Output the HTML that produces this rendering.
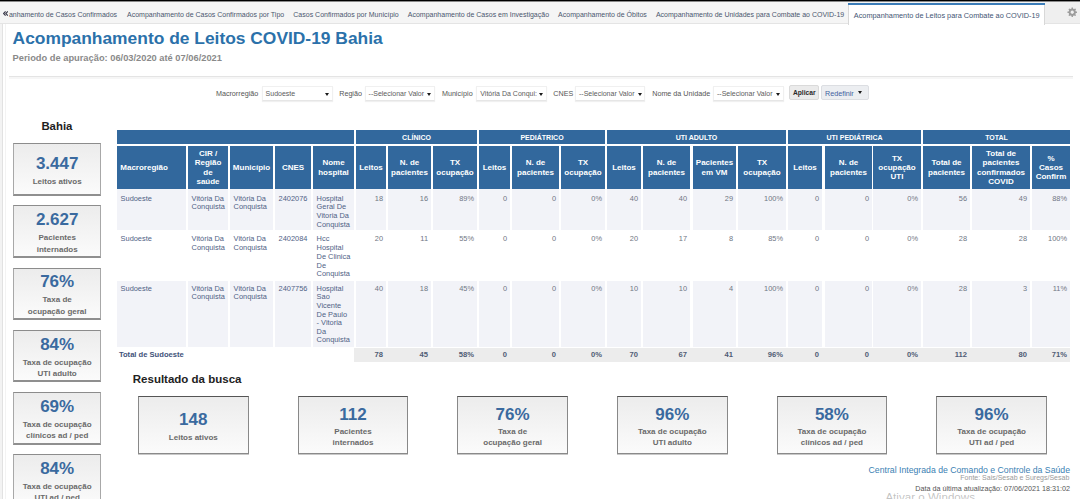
<!DOCTYPE html>
<html lang="pt-BR"><head><meta charset="utf-8"><title>Acompanhamento de Leitos COVID-19 Bahia</title>
<style>
html,body{margin:0;padding:0;width:1080px;height:499px;overflow:hidden;background:#f3f3f3}
body{position:relative;font-family:"Liberation Sans", Arial, sans-serif}
body div{position:absolute;white-space:nowrap;box-sizing:border-box}
svg{position:absolute}
</style></head><body>
<div style="left:0px;top:0px;width:1080px;height:499px;background:#f3f3f3"></div>
<div style="left:0px;top:0px;width:1080px;height:1px;background:#000"></div>
<div style="left:0px;top:1px;width:1080px;height:1px;background:#8a8a8a"></div>
<div style="left:0px;top:2px;width:1080px;height:22px;background:#f5f5f5"></div>
<div style="left:0px;top:23px;width:1080px;height:1px;background:#e4e4e4"></div>
<div style="left:2px;top:24px;width:1078px;height:475px;background:#fff"></div>
<div style="left:2px;top:24px;width:1px;height:475px;background:#e2e2e2"></div>
<div style="left:5px;top:24px;width:1px;height:475px;background:#f3f3f3"></div>
<div style="left:848px;top:3px;width:197px;height:22px;background:#fff;border-left:1px solid #d8d8d8;border-right:1px solid #d8d8d8;box-sizing:border-box"></div>
<div style="left:848px;top:3px;width:197px;height:2px;background:#3b7cb8"></div>
<div style="left:1045px;top:2px;width:35px;height:21px;background:#efefef"></div>
<svg style="position:absolute;left:2.8px;top:11px" width="5.2" height="5" viewBox="0 0 5.2 5"><path d="M2.6 0.4 L0.6 2.5 L2.6 4.6 M4.8 0.4 L2.8 2.5 L4.8 4.6" stroke="#3a3a4a" stroke-width="1.1" fill="none"/></svg>
<svg style="position:absolute;left:1066.6px;top:6.8px" width="10.5" height="10.5" viewBox="0 0 24 24"><path fill="#9c9c9c" fill-rule="evenodd" d="M20.17 10.04 L22.90 10.54 L22.90 13.46 L20.17 13.96 L19.16 16.39 L20.74 18.67 L18.67 20.74 L16.39 19.16 L13.96 20.17 L13.46 22.90 L10.54 22.90 L10.04 20.17 L7.61 19.16 L5.33 20.74 L3.26 18.67 L4.84 16.39 L3.83 13.96 L1.10 13.46 L1.10 10.54 L3.83 10.04 L4.84 7.61 L3.26 5.33 L5.33 3.26 L7.61 4.84 L10.04 3.83 L10.54 1.10 L13.46 1.10 L13.96 3.83 L16.39 4.84 L18.67 3.26 L20.74 5.33 L19.16 7.61 Z M12 8.2 A3.8 3.8 0 1 0 12.001 8.2 Z"/></svg>
<div style="left:9px;top:76px;width:1064px;height:1px;background:#e4e4e4"></div>
<div style="left:9px;top:77px;width:1064px;height:2px;background:#f6f6f6"></div>
<div style="left:261.6px;top:86px;width:71.09999999999997px;height:15px;background:#fff;border:1px solid #f0f0f0;border-bottom-color:#e6e6e6;box-sizing:border-box;box-shadow:0 1px 1px rgba(0,0,0,0.06)"></div>
<div style="left:324.70px;top:92.70px;width:0;height:0;border-left:2.3px solid transparent;border-right:2.3px solid transparent;border-top:3.8px solid #1a1a1a"></div>
<div style="left:364.6px;top:86px;width:70.39999999999998px;height:15px;background:#fff;border:1px solid #f0f0f0;border-bottom-color:#e6e6e6;box-sizing:border-box;box-shadow:0 1px 1px rgba(0,0,0,0.06)"></div>
<div style="left:426.70px;top:92.70px;width:0;height:0;border-left:2.3px solid transparent;border-right:2.3px solid transparent;border-top:3.8px solid #1a1a1a"></div>
<div style="left:476.3px;top:86px;width:70.69999999999999px;height:15px;background:#fff;border:1px solid #f0f0f0;border-bottom-color:#e6e6e6;box-sizing:border-box;box-shadow:0 1px 1px rgba(0,0,0,0.06)"></div>
<div style="left:538.70px;top:92.70px;width:0;height:0;border-left:2.3px solid transparent;border-right:2.3px solid transparent;border-top:3.8px solid #1a1a1a"></div>
<div style="left:575px;top:86px;width:70.39999999999998px;height:15px;background:#fff;border:1px solid #f0f0f0;border-bottom-color:#e6e6e6;box-sizing:border-box;box-shadow:0 1px 1px rgba(0,0,0,0.06)"></div>
<div style="left:637.90px;top:92.70px;width:0;height:0;border-left:2.3px solid transparent;border-right:2.3px solid transparent;border-top:3.8px solid #1a1a1a"></div>
<div style="left:713px;top:86px;width:71.29999999999995px;height:15px;background:#fff;border:1px solid #f0f0f0;border-bottom-color:#e6e6e6;box-sizing:border-box;box-shadow:0 1px 1px rgba(0,0,0,0.06)"></div>
<div style="left:775.70px;top:92.70px;width:0;height:0;border-left:2.3px solid transparent;border-right:2.3px solid transparent;border-top:3.8px solid #1a1a1a"></div>
<div style="left:789.3px;top:85.3px;width:30.100000000000023px;height:15.200000000000003px;background:#ebebeb;border:1px solid #dadada;border-radius:2px;box-sizing:border-box"></div>
<div style="left:821.3px;top:85.3px;width:48.10000000000002px;height:15.200000000000003px;background:#eceef1;border:1px solid #dcdee2;border-radius:2px;box-sizing:border-box"></div>
<div style="left:858.10px;top:91.20px;width:0;height:0;border-left:2.3px solid transparent;border-right:2.3px solid transparent;border-top:3.8px solid #1a1a1a"></div>
<div style="left:13.3px;top:143.2px;width:87.7px;height:52.5px;background:linear-gradient(#ececec,#fbfbfb);border:1px solid #a8a8a8;border-top-color:#8c8c8c;border-bottom:2px solid #8f8f8f;box-sizing:border-box"></div>
<div style="left:13.3px;top:205.4px;width:87.7px;height:52.49999999999997px;background:linear-gradient(#ececec,#fbfbfb);border:1px solid #a8a8a8;border-top-color:#8c8c8c;border-bottom:2px solid #8f8f8f;box-sizing:border-box"></div>
<div style="left:13.3px;top:267.6px;width:87.7px;height:52.5px;background:linear-gradient(#ececec,#fbfbfb);border:1px solid #a8a8a8;border-top-color:#8c8c8c;border-bottom:2px solid #8f8f8f;box-sizing:border-box"></div>
<div style="left:13.3px;top:329.8px;width:87.7px;height:52.5px;background:linear-gradient(#ececec,#fbfbfb);border:1px solid #a8a8a8;border-top-color:#8c8c8c;border-bottom:2px solid #8f8f8f;box-sizing:border-box"></div>
<div style="left:13.3px;top:392.0px;width:87.7px;height:52.5px;background:linear-gradient(#ececec,#fbfbfb);border:1px solid #a8a8a8;border-top-color:#8c8c8c;border-bottom:2px solid #8f8f8f;box-sizing:border-box"></div>
<div style="left:13.3px;top:454.2px;width:87.7px;height:52.5px;background:linear-gradient(#ececec,#fbfbfb);border:1px solid #a8a8a8;border-top-color:#8c8c8c;border-bottom:2px solid #8f8f8f;box-sizing:border-box"></div>
<div style="left:117px;top:130px;width:237px;height:14px;background:#32689d"></div>
<div style="left:356px;top:130px;width:121px;height:14px;background:#32689d"></div>
<div style="left:479px;top:130px;width:126px;height:14px;background:#32689d"></div>
<div style="left:607px;top:130px;width:179px;height:14px;background:#32689d"></div>
<div style="left:788px;top:130px;width:133px;height:14px;background:#32689d"></div>
<div style="left:923px;top:130px;width:147px;height:14px;background:#32689d"></div>
<div style="left:117px;top:146px;width:69px;height:43px;background:#32689d"></div>
<div style="left:188px;top:146px;width:40px;height:43px;background:#32689d"></div>
<div style="left:230px;top:146px;width:43px;height:43px;background:#32689d"></div>
<div style="left:275px;top:146px;width:36px;height:43px;background:#32689d"></div>
<div style="left:313px;top:146px;width:41px;height:43px;background:#32689d"></div>
<div style="left:356px;top:146px;width:30px;height:43px;background:#32689d"></div>
<div style="left:388px;top:146px;width:43px;height:43px;background:#32689d"></div>
<div style="left:433px;top:146px;width:44px;height:43px;background:#32689d"></div>
<div style="left:479px;top:146px;width:31px;height:43px;background:#32689d"></div>
<div style="left:512px;top:146px;width:47px;height:43px;background:#32689d"></div>
<div style="left:561px;top:146px;width:44px;height:43px;background:#32689d"></div>
<div style="left:607px;top:146px;width:34px;height:43px;background:#32689d"></div>
<div style="left:643px;top:146px;width:47px;height:43px;background:#32689d"></div>
<div style="left:693px;top:146px;width:43px;height:43px;background:#32689d"></div>
<div style="left:738px;top:146px;width:48px;height:43px;background:#32689d"></div>
<div style="left:788px;top:146px;width:34px;height:43px;background:#32689d"></div>
<div style="left:825px;top:146px;width:47px;height:43px;background:#32689d"></div>
<div style="left:873px;top:146px;width:48px;height:43px;background:#32689d"></div>
<div style="left:923px;top:146px;width:47px;height:43px;background:#32689d"></div>
<div style="left:972px;top:146px;width:58px;height:43px;background:#32689d"></div>
<div style="left:1032px;top:146px;width:38px;height:43px;background:#32689d"></div>
<div style="left:117px;top:189px;width:69px;height:41px;background:#f2f3f8"></div>
<div style="left:188px;top:189px;width:40px;height:41px;background:#f2f3f8"></div>
<div style="left:230px;top:189px;width:43px;height:41px;background:#f2f3f8"></div>
<div style="left:275px;top:189px;width:36px;height:41px;background:#f2f3f8"></div>
<div style="left:313px;top:189px;width:41px;height:41px;background:#f2f3f8"></div>
<div style="left:356px;top:189px;width:30px;height:41px;background:#f2f3f8"></div>
<div style="left:388px;top:189px;width:43px;height:41px;background:#f2f3f8"></div>
<div style="left:433px;top:189px;width:44px;height:41px;background:#f2f3f8"></div>
<div style="left:479px;top:189px;width:31px;height:41px;background:#f2f3f8"></div>
<div style="left:512px;top:189px;width:47px;height:41px;background:#f2f3f8"></div>
<div style="left:561px;top:189px;width:44px;height:41px;background:#f2f3f8"></div>
<div style="left:607px;top:189px;width:34px;height:41px;background:#f2f3f8"></div>
<div style="left:643px;top:189px;width:47px;height:41px;background:#f2f3f8"></div>
<div style="left:693px;top:189px;width:43px;height:41px;background:#f2f3f8"></div>
<div style="left:738px;top:189px;width:48px;height:41px;background:#f2f3f8"></div>
<div style="left:788px;top:189px;width:34px;height:41px;background:#f2f3f8"></div>
<div style="left:825px;top:189px;width:47px;height:41px;background:#f2f3f8"></div>
<div style="left:873px;top:189px;width:48px;height:41px;background:#f2f3f8"></div>
<div style="left:923px;top:189px;width:47px;height:41px;background:#f2f3f8"></div>
<div style="left:972px;top:189px;width:58px;height:41px;background:#f2f3f8"></div>
<div style="left:1032px;top:189px;width:38px;height:41px;background:#f2f3f8"></div>
<div style="left:117px;top:281px;width:69px;height:66px;background:#f2f3f8"></div>
<div style="left:188px;top:281px;width:40px;height:66px;background:#f2f3f8"></div>
<div style="left:230px;top:281px;width:43px;height:66px;background:#f2f3f8"></div>
<div style="left:275px;top:281px;width:36px;height:66px;background:#f2f3f8"></div>
<div style="left:313px;top:281px;width:41px;height:66px;background:#f2f3f8"></div>
<div style="left:356px;top:281px;width:30px;height:66px;background:#f2f3f8"></div>
<div style="left:388px;top:281px;width:43px;height:66px;background:#f2f3f8"></div>
<div style="left:433px;top:281px;width:44px;height:66px;background:#f2f3f8"></div>
<div style="left:479px;top:281px;width:31px;height:66px;background:#f2f3f8"></div>
<div style="left:512px;top:281px;width:47px;height:66px;background:#f2f3f8"></div>
<div style="left:561px;top:281px;width:44px;height:66px;background:#f2f3f8"></div>
<div style="left:607px;top:281px;width:34px;height:66px;background:#f2f3f8"></div>
<div style="left:643px;top:281px;width:47px;height:66px;background:#f2f3f8"></div>
<div style="left:693px;top:281px;width:43px;height:66px;background:#f2f3f8"></div>
<div style="left:738px;top:281px;width:48px;height:66px;background:#f2f3f8"></div>
<div style="left:788px;top:281px;width:34px;height:66px;background:#f2f3f8"></div>
<div style="left:825px;top:281px;width:47px;height:66px;background:#f2f3f8"></div>
<div style="left:873px;top:281px;width:48px;height:66px;background:#f2f3f8"></div>
<div style="left:923px;top:281px;width:47px;height:66px;background:#f2f3f8"></div>
<div style="left:972px;top:281px;width:58px;height:66px;background:#f2f3f8"></div>
<div style="left:1032px;top:281px;width:38px;height:66px;background:#f2f3f8"></div>
<div style="left:354px;top:348px;width:716px;height:14px;background:#ececec"></div>
<div style="left:138.0px;top:396.3px;width:110.6px;height:58.0px;background:linear-gradient(#ececec,#fbfbfb);border:1px solid #888;border-top-color:#555;border-bottom-color:#8a8a8a;box-sizing:border-box;box-shadow:0 1px 0 #c8c8c8"></div>
<div style="left:297.7px;top:396.3px;width:110.59999999999997px;height:58.0px;background:linear-gradient(#ececec,#fbfbfb);border:1px solid #888;border-top-color:#555;border-bottom-color:#8a8a8a;box-sizing:border-box;box-shadow:0 1px 0 #c8c8c8"></div>
<div style="left:457.3px;top:396.3px;width:110.59999999999997px;height:58.0px;background:linear-gradient(#ececec,#fbfbfb);border:1px solid #888;border-top-color:#555;border-bottom-color:#8a8a8a;box-sizing:border-box;box-shadow:0 1px 0 #c8c8c8"></div>
<div style="left:617.0px;top:396.3px;width:110.60000000000002px;height:58.0px;background:linear-gradient(#ececec,#fbfbfb);border:1px solid #888;border-top-color:#555;border-bottom-color:#8a8a8a;box-sizing:border-box;box-shadow:0 1px 0 #c8c8c8"></div>
<div style="left:776.6px;top:396.3px;width:110.60000000000002px;height:58.0px;background:linear-gradient(#ececec,#fbfbfb);border:1px solid #888;border-top-color:#555;border-bottom-color:#8a8a8a;box-sizing:border-box;box-shadow:0 1px 0 #c8c8c8"></div>
<div style="left:936.3px;top:396.3px;width:110.59999999999991px;height:58.0px;background:linear-gradient(#ececec,#fbfbfb);border:1px solid #888;border-top-color:#555;border-bottom-color:#8a8a8a;box-sizing:border-box;box-shadow:0 1px 0 #c8c8c8"></div>
<div style="left:127.00px;top:11.30px;width:400px;font-size:7px;line-height:8.4px;color:#4a566e;font-weight:normal;text-align:left;">Acompanhamento de Casos Confirmados por Tipo</div>
<div style="left:293.30px;top:11.30px;width:400px;font-size:7px;line-height:8.4px;color:#4a566e;font-weight:normal;text-align:left;">Casos Confirmados por Município</div>
<div style="left:407.80px;top:11.30px;width:400px;font-size:7px;line-height:8.4px;color:#4a566e;font-weight:normal;text-align:left;">Acompanhamento de Casos em Investigação</div>
<div style="left:558.10px;top:11.30px;width:400px;font-size:7px;line-height:8.4px;color:#4a566e;font-weight:normal;text-align:left;">Acompanhamento de Óbitos</div>
<div style="left:655.90px;top:11.30px;width:400px;font-size:7px;line-height:8.4px;color:#4a566e;font-weight:normal;text-align:left;">Acompanhamento de Unidades para Combate ao COVID-19</div>
<div style="left:853.80px;top:11.50px;width:400px;font-size:7.33px;line-height:8.8px;color:#3f5574;font-weight:normal;text-align:left;">Acompanhamento de Leitos para Combate ao COVID-19</div>
<div style="left:8.90px;top:11.30px;width:400px;font-size:7px;line-height:8.4px;color:#4a566e;font-weight:normal;text-align:left;">anhamento de Casos Confirmados</div>
<div style="left:12.60px;top:28.40px;width:400px;font-size:17.4px;line-height:20px;color:#2b71aa;font-weight:bold;text-align:left;">Acompanhamento de Leitos COVID-19 Bahia</div>
<div style="left:12.60px;top:53.20px;width:400px;font-size:9.3px;line-height:11px;color:#8a8a8a;font-weight:bold;text-align:left;">Periodo de apuração: 06/03/2020 até 07/06/2021</div>
<div style="left:215.90px;top:90.20px;width:400px;font-size:7.2px;line-height:8.64px;color:#555;font-weight:normal;text-align:left;">Macrorregião</div>
<div style="left:265.60px;top:90.20px;width:400px;font-size:7px;line-height:8.4px;color:#5c5c5c;font-weight:normal;text-align:left;">Sudoeste</div>
<div style="left:339.20px;top:90.20px;width:400px;font-size:7.2px;line-height:8.64px;color:#555;font-weight:normal;text-align:left;">Região</div>
<div style="left:368.60px;top:90.20px;width:400px;font-size:7px;line-height:8.4px;color:#5c5c5c;font-weight:normal;text-align:left;">--Selecionar Valor</div>
<div style="left:441.90px;top:90.20px;width:400px;font-size:7.2px;line-height:8.64px;color:#555;font-weight:normal;text-align:left;">Município</div>
<div style="left:480.30px;top:90.20px;width:400px;font-size:7px;line-height:8.4px;color:#5c5c5c;font-weight:normal;text-align:left;">Vitória Da Conqui:</div>
<div style="left:553.30px;top:90.20px;width:400px;font-size:7.2px;line-height:8.64px;color:#555;font-weight:normal;text-align:left;">CNES</div>
<div style="left:579.00px;top:90.20px;width:400px;font-size:7px;line-height:8.4px;color:#5c5c5c;font-weight:normal;text-align:left;">--Selecionar Valor</div>
<div style="left:652.20px;top:90.20px;width:400px;font-size:7.2px;line-height:8.64px;color:#555;font-weight:normal;text-align:left;">Nome da Unidade</div>
<div style="left:717.00px;top:90.20px;width:400px;font-size:7px;line-height:8.4px;color:#5c5c5c;font-weight:normal;text-align:left;">--Selecionar Valor</div>
<div style="left:784.30px;top:89.20px;width:40px;font-size:6.7px;line-height:8.04px;color:#2a2a2a;font-weight:bold;text-align:center;">Aplicar</div>
<div style="left:825.00px;top:89.50px;width:400px;font-size:7.2px;line-height:8.64px;color:#3f62a0;font-weight:normal;text-align:left;">Redefinir</div>
<div style="left:16.90px;top:120.20px;width:80px;font-size:11.4px;line-height:13px;color:#1e1e1e;font-weight:bold;text-align:center;">Bahia</div>
<div style="left:-2.85px;top:153.80px;width:120px;font-size:17px;line-height:20px;color:#3a6a9f;font-weight:bold;text-align:center;">3.447</div>
<div style="left:-2.85px;top:177.10px;width:120px;font-size:8px;line-height:10px;color:#6a6a6a;font-weight:bold;text-align:center;">Leitos ativos</div>
<div style="left:-2.85px;top:210.25px;width:120px;font-size:17px;line-height:20px;color:#3a6a9f;font-weight:bold;text-align:center;">2.627</div>
<div style="left:-2.85px;top:233.15px;width:120px;font-size:8px;line-height:10px;color:#6a6a6a;font-weight:bold;text-align:center;">Pacientes</div>
<div style="left:-2.85px;top:244.65px;width:120px;font-size:8px;line-height:10px;color:#6a6a6a;font-weight:bold;text-align:center;">internados</div>
<div style="left:-2.85px;top:272.45px;width:120px;font-size:17px;line-height:20px;color:#3a6a9f;font-weight:bold;text-align:center;">76%</div>
<div style="left:-2.85px;top:295.35px;width:120px;font-size:8px;line-height:10px;color:#6a6a6a;font-weight:bold;text-align:center;">Taxa de</div>
<div style="left:-2.85px;top:306.85px;width:120px;font-size:8px;line-height:10px;color:#6a6a6a;font-weight:bold;text-align:center;">ocupação geral</div>
<div style="left:-2.85px;top:334.65px;width:120px;font-size:17px;line-height:20px;color:#3a6a9f;font-weight:bold;text-align:center;">84%</div>
<div style="left:-2.85px;top:357.55px;width:120px;font-size:8px;line-height:10px;color:#6a6a6a;font-weight:bold;text-align:center;">Taxa de ocupação</div>
<div style="left:-2.85px;top:369.05px;width:120px;font-size:8px;line-height:10px;color:#6a6a6a;font-weight:bold;text-align:center;">UTI adulto</div>
<div style="left:-2.85px;top:396.85px;width:120px;font-size:17px;line-height:20px;color:#3a6a9f;font-weight:bold;text-align:center;">69%</div>
<div style="left:-2.85px;top:419.75px;width:120px;font-size:8px;line-height:10px;color:#6a6a6a;font-weight:bold;text-align:center;">Taxa de ocupação</div>
<div style="left:-2.85px;top:431.25px;width:120px;font-size:8px;line-height:10px;color:#6a6a6a;font-weight:bold;text-align:center;">clínicos ad / ped</div>
<div style="left:-2.85px;top:459.05px;width:120px;font-size:17px;line-height:20px;color:#3a6a9f;font-weight:bold;text-align:center;">84%</div>
<div style="left:-2.85px;top:481.95px;width:120px;font-size:8px;line-height:10px;color:#6a6a6a;font-weight:bold;text-align:center;">Taxa de ocupação</div>
<div style="left:-2.85px;top:493.45px;width:120px;font-size:8px;line-height:10px;color:#6a6a6a;font-weight:bold;text-align:center;">UTI ad / ped</div>
<div style="left:316.50px;top:132.80px;width:200px;font-size:7px;line-height:9px;color:#fff;font-weight:bold;text-align:center;">CLÍNICO</div>
<div style="left:442.00px;top:132.80px;width:200px;font-size:7px;line-height:9px;color:#fff;font-weight:bold;text-align:center;">PEDIÁTRICO</div>
<div style="left:596.50px;top:132.80px;width:200px;font-size:7px;line-height:9px;color:#fff;font-weight:bold;text-align:center;">UTI ADULTO</div>
<div style="left:754.50px;top:132.80px;width:200px;font-size:7px;line-height:9px;color:#fff;font-weight:bold;text-align:center;">UTI PEDIÁTRICA</div>
<div style="left:896.50px;top:132.80px;width:200px;font-size:7px;line-height:9px;color:#fff;font-weight:bold;text-align:center;">TOTAL</div>
<div style="left:120.30px;top:162.90px;width:400px;font-size:8px;line-height:9.2px;color:#fff;font-weight:bold;text-align:left;">Macroregião</div>
<div style="left:148.00px;top:149.10px;width:120px;font-size:8px;line-height:9.2px;color:#fff;font-weight:bold;text-align:center;">CIR /</div>
<div style="left:148.00px;top:158.30px;width:120px;font-size:8px;line-height:9.2px;color:#fff;font-weight:bold;text-align:center;">Região</div>
<div style="left:148.00px;top:167.50px;width:120px;font-size:8px;line-height:9.2px;color:#fff;font-weight:bold;text-align:center;">de</div>
<div style="left:148.00px;top:176.70px;width:120px;font-size:8px;line-height:9.2px;color:#fff;font-weight:bold;text-align:center;">saúde</div>
<div style="left:191.50px;top:162.90px;width:120px;font-size:8px;line-height:9.2px;color:#fff;font-weight:bold;text-align:center;">Município</div>
<div style="left:233.00px;top:162.90px;width:120px;font-size:8px;line-height:9.2px;color:#fff;font-weight:bold;text-align:center;">CNES</div>
<div style="left:273.50px;top:158.30px;width:120px;font-size:8px;line-height:9.2px;color:#fff;font-weight:bold;text-align:center;">Nome</div>
<div style="left:273.50px;top:167.50px;width:120px;font-size:8px;line-height:9.2px;color:#fff;font-weight:bold;text-align:center;">hospital</div>
<div style="left:311.00px;top:162.90px;width:120px;font-size:8px;line-height:9.2px;color:#fff;font-weight:bold;text-align:center;">Leitos</div>
<div style="left:349.50px;top:158.30px;width:120px;font-size:8px;line-height:9.2px;color:#fff;font-weight:bold;text-align:center;">N. de</div>
<div style="left:349.50px;top:167.50px;width:120px;font-size:8px;line-height:9.2px;color:#fff;font-weight:bold;text-align:center;">pacientes</div>
<div style="left:395.00px;top:158.30px;width:120px;font-size:8px;line-height:9.2px;color:#fff;font-weight:bold;text-align:center;">TX</div>
<div style="left:395.00px;top:167.50px;width:120px;font-size:8px;line-height:9.2px;color:#fff;font-weight:bold;text-align:center;">ocupação</div>
<div style="left:434.50px;top:162.90px;width:120px;font-size:8px;line-height:9.2px;color:#fff;font-weight:bold;text-align:center;">Leitos</div>
<div style="left:475.50px;top:158.30px;width:120px;font-size:8px;line-height:9.2px;color:#fff;font-weight:bold;text-align:center;">N. de</div>
<div style="left:475.50px;top:167.50px;width:120px;font-size:8px;line-height:9.2px;color:#fff;font-weight:bold;text-align:center;">pacientes</div>
<div style="left:523.00px;top:158.30px;width:120px;font-size:8px;line-height:9.2px;color:#fff;font-weight:bold;text-align:center;">TX</div>
<div style="left:523.00px;top:167.50px;width:120px;font-size:8px;line-height:9.2px;color:#fff;font-weight:bold;text-align:center;">ocupação</div>
<div style="left:564.00px;top:162.90px;width:120px;font-size:8px;line-height:9.2px;color:#fff;font-weight:bold;text-align:center;">Leitos</div>
<div style="left:606.50px;top:158.30px;width:120px;font-size:8px;line-height:9.2px;color:#fff;font-weight:bold;text-align:center;">N. de</div>
<div style="left:606.50px;top:167.50px;width:120px;font-size:8px;line-height:9.2px;color:#fff;font-weight:bold;text-align:center;">pacientes</div>
<div style="left:654.50px;top:158.30px;width:120px;font-size:8px;line-height:9.2px;color:#fff;font-weight:bold;text-align:center;">Pacientes</div>
<div style="left:654.50px;top:167.50px;width:120px;font-size:8px;line-height:9.2px;color:#fff;font-weight:bold;text-align:center;">em VM</div>
<div style="left:702.00px;top:158.30px;width:120px;font-size:8px;line-height:9.2px;color:#fff;font-weight:bold;text-align:center;">TX</div>
<div style="left:702.00px;top:167.50px;width:120px;font-size:8px;line-height:9.2px;color:#fff;font-weight:bold;text-align:center;">ocupação</div>
<div style="left:745.00px;top:162.90px;width:120px;font-size:8px;line-height:9.2px;color:#fff;font-weight:bold;text-align:center;">Leitos</div>
<div style="left:788.50px;top:158.30px;width:120px;font-size:8px;line-height:9.2px;color:#fff;font-weight:bold;text-align:center;">N. de</div>
<div style="left:788.50px;top:167.50px;width:120px;font-size:8px;line-height:9.2px;color:#fff;font-weight:bold;text-align:center;">pacientes</div>
<div style="left:837.00px;top:153.70px;width:120px;font-size:8px;line-height:9.2px;color:#fff;font-weight:bold;text-align:center;">TX</div>
<div style="left:837.00px;top:162.90px;width:120px;font-size:8px;line-height:9.2px;color:#fff;font-weight:bold;text-align:center;">ocupação</div>
<div style="left:837.00px;top:172.10px;width:120px;font-size:8px;line-height:9.2px;color:#fff;font-weight:bold;text-align:center;">UTI</div>
<div style="left:886.50px;top:158.30px;width:120px;font-size:8px;line-height:9.2px;color:#fff;font-weight:bold;text-align:center;">Total de</div>
<div style="left:886.50px;top:167.50px;width:120px;font-size:8px;line-height:9.2px;color:#fff;font-weight:bold;text-align:center;">pacientes</div>
<div style="left:941.00px;top:149.10px;width:120px;font-size:8px;line-height:9.2px;color:#fff;font-weight:bold;text-align:center;">Total de</div>
<div style="left:941.00px;top:158.30px;width:120px;font-size:8px;line-height:9.2px;color:#fff;font-weight:bold;text-align:center;">pacientes</div>
<div style="left:941.00px;top:167.50px;width:120px;font-size:8px;line-height:9.2px;color:#fff;font-weight:bold;text-align:center;">confirmados</div>
<div style="left:941.00px;top:176.70px;width:120px;font-size:8px;line-height:9.2px;color:#fff;font-weight:bold;text-align:center;">COVID</div>
<div style="left:991.00px;top:153.70px;width:120px;font-size:8px;line-height:9.2px;color:#fff;font-weight:bold;text-align:center;">%</div>
<div style="left:991.00px;top:162.90px;width:120px;font-size:8px;line-height:9.2px;color:#fff;font-weight:bold;text-align:center;">Casos</div>
<div style="left:991.00px;top:172.10px;width:120px;font-size:8px;line-height:9.2px;color:#fff;font-weight:bold;text-align:center;">Confirm</div>
<div style="left:120.60px;top:194.60px;width:400px;font-size:7.4px;line-height:8.7px;color:#4f6285;font-weight:normal;text-align:left;">Sudoeste</div>
<div style="left:191.60px;top:194.60px;width:400px;font-size:7.4px;line-height:8.7px;color:#4f6285;font-weight:normal;text-align:left;">Vitória Da</div>
<div style="left:191.60px;top:203.30px;width:400px;font-size:7.4px;line-height:8.7px;color:#4f6285;font-weight:normal;text-align:left;">Conquista</div>
<div style="left:233.60px;top:194.60px;width:400px;font-size:7.4px;line-height:8.7px;color:#4f6285;font-weight:normal;text-align:left;">Vitória Da</div>
<div style="left:233.60px;top:203.30px;width:400px;font-size:7.4px;line-height:8.7px;color:#4f6285;font-weight:normal;text-align:left;">Conquista</div>
<div style="left:278.60px;top:194.60px;width:400px;font-size:7.4px;line-height:8.7px;color:#4f6285;font-weight:normal;text-align:left;">2402076</div>
<div style="left:316.60px;top:194.60px;width:400px;font-size:7.4px;line-height:8.7px;color:#4f6285;font-weight:normal;text-align:left;">Hospital</div>
<div style="left:316.60px;top:203.30px;width:400px;font-size:7.4px;line-height:8.7px;color:#4f6285;font-weight:normal;text-align:left;">Geral De</div>
<div style="left:316.60px;top:212.00px;width:400px;font-size:7.4px;line-height:8.7px;color:#4f6285;font-weight:normal;text-align:left;">Vitoria Da</div>
<div style="left:316.60px;top:220.70px;width:400px;font-size:7.4px;line-height:8.7px;color:#4f6285;font-weight:normal;text-align:left;">Conquista</div>
<div style="left:323.00px;top:194.60px;width:60px;font-size:7.4px;line-height:8.7px;color:#707684;font-weight:normal;text-align:right;">18</div>
<div style="left:368.00px;top:194.60px;width:60px;font-size:7.4px;line-height:8.7px;color:#707684;font-weight:normal;text-align:right;">16</div>
<div style="left:414.00px;top:194.60px;width:60px;font-size:7.4px;line-height:8.7px;color:#707684;font-weight:normal;text-align:right;">89%</div>
<div style="left:447.00px;top:194.60px;width:60px;font-size:7.4px;line-height:8.7px;color:#707684;font-weight:normal;text-align:right;">0</div>
<div style="left:496.00px;top:194.60px;width:60px;font-size:7.4px;line-height:8.7px;color:#707684;font-weight:normal;text-align:right;">0</div>
<div style="left:542.00px;top:194.60px;width:60px;font-size:7.4px;line-height:8.7px;color:#707684;font-weight:normal;text-align:right;">0%</div>
<div style="left:578.00px;top:194.60px;width:60px;font-size:7.4px;line-height:8.7px;color:#707684;font-weight:normal;text-align:right;">40</div>
<div style="left:627.00px;top:194.60px;width:60px;font-size:7.4px;line-height:8.7px;color:#707684;font-weight:normal;text-align:right;">40</div>
<div style="left:673.00px;top:194.60px;width:60px;font-size:7.4px;line-height:8.7px;color:#707684;font-weight:normal;text-align:right;">29</div>
<div style="left:723.00px;top:194.60px;width:60px;font-size:7.4px;line-height:8.7px;color:#707684;font-weight:normal;text-align:right;">100%</div>
<div style="left:759.00px;top:194.60px;width:60px;font-size:7.4px;line-height:8.7px;color:#707684;font-weight:normal;text-align:right;">0</div>
<div style="left:809.00px;top:194.60px;width:60px;font-size:7.4px;line-height:8.7px;color:#707684;font-weight:normal;text-align:right;">0</div>
<div style="left:858.00px;top:194.60px;width:60px;font-size:7.4px;line-height:8.7px;color:#707684;font-weight:normal;text-align:right;">0%</div>
<div style="left:907.00px;top:194.60px;width:60px;font-size:7.4px;line-height:8.7px;color:#707684;font-weight:normal;text-align:right;">56</div>
<div style="left:967.00px;top:194.60px;width:60px;font-size:7.4px;line-height:8.7px;color:#707684;font-weight:normal;text-align:right;">49</div>
<div style="left:1007.00px;top:194.60px;width:60px;font-size:7.4px;line-height:8.7px;color:#707684;font-weight:normal;text-align:right;">88%</div>
<div style="left:120.60px;top:235.40px;width:400px;font-size:7.4px;line-height:8.7px;color:#4f6285;font-weight:normal;text-align:left;">Sudoeste</div>
<div style="left:191.60px;top:235.40px;width:400px;font-size:7.4px;line-height:8.7px;color:#4f6285;font-weight:normal;text-align:left;">Vitória Da</div>
<div style="left:191.60px;top:244.10px;width:400px;font-size:7.4px;line-height:8.7px;color:#4f6285;font-weight:normal;text-align:left;">Conquista</div>
<div style="left:233.60px;top:235.40px;width:400px;font-size:7.4px;line-height:8.7px;color:#4f6285;font-weight:normal;text-align:left;">Vitória Da</div>
<div style="left:233.60px;top:244.10px;width:400px;font-size:7.4px;line-height:8.7px;color:#4f6285;font-weight:normal;text-align:left;">Conquista</div>
<div style="left:278.60px;top:235.40px;width:400px;font-size:7.4px;line-height:8.7px;color:#4f6285;font-weight:normal;text-align:left;">2402084</div>
<div style="left:316.60px;top:235.40px;width:400px;font-size:7.4px;line-height:8.7px;color:#4f6285;font-weight:normal;text-align:left;">Hcc</div>
<div style="left:316.60px;top:244.10px;width:400px;font-size:7.4px;line-height:8.7px;color:#4f6285;font-weight:normal;text-align:left;">Hospital</div>
<div style="left:316.60px;top:252.80px;width:400px;font-size:7.4px;line-height:8.7px;color:#4f6285;font-weight:normal;text-align:left;">De Clinica</div>
<div style="left:316.60px;top:261.50px;width:400px;font-size:7.4px;line-height:8.7px;color:#4f6285;font-weight:normal;text-align:left;">De</div>
<div style="left:316.60px;top:270.20px;width:400px;font-size:7.4px;line-height:8.7px;color:#4f6285;font-weight:normal;text-align:left;">Conquista</div>
<div style="left:323.00px;top:235.40px;width:60px;font-size:7.4px;line-height:8.7px;color:#707684;font-weight:normal;text-align:right;">20</div>
<div style="left:368.00px;top:235.40px;width:60px;font-size:7.4px;line-height:8.7px;color:#707684;font-weight:normal;text-align:right;">11</div>
<div style="left:414.00px;top:235.40px;width:60px;font-size:7.4px;line-height:8.7px;color:#707684;font-weight:normal;text-align:right;">55%</div>
<div style="left:447.00px;top:235.40px;width:60px;font-size:7.4px;line-height:8.7px;color:#707684;font-weight:normal;text-align:right;">0</div>
<div style="left:496.00px;top:235.40px;width:60px;font-size:7.4px;line-height:8.7px;color:#707684;font-weight:normal;text-align:right;">0</div>
<div style="left:542.00px;top:235.40px;width:60px;font-size:7.4px;line-height:8.7px;color:#707684;font-weight:normal;text-align:right;">0%</div>
<div style="left:578.00px;top:235.40px;width:60px;font-size:7.4px;line-height:8.7px;color:#707684;font-weight:normal;text-align:right;">20</div>
<div style="left:627.00px;top:235.40px;width:60px;font-size:7.4px;line-height:8.7px;color:#707684;font-weight:normal;text-align:right;">17</div>
<div style="left:673.00px;top:235.40px;width:60px;font-size:7.4px;line-height:8.7px;color:#707684;font-weight:normal;text-align:right;">8</div>
<div style="left:723.00px;top:235.40px;width:60px;font-size:7.4px;line-height:8.7px;color:#707684;font-weight:normal;text-align:right;">85%</div>
<div style="left:759.00px;top:235.40px;width:60px;font-size:7.4px;line-height:8.7px;color:#707684;font-weight:normal;text-align:right;">0</div>
<div style="left:809.00px;top:235.40px;width:60px;font-size:7.4px;line-height:8.7px;color:#707684;font-weight:normal;text-align:right;">0</div>
<div style="left:858.00px;top:235.40px;width:60px;font-size:7.4px;line-height:8.7px;color:#707684;font-weight:normal;text-align:right;">0%</div>
<div style="left:907.00px;top:235.40px;width:60px;font-size:7.4px;line-height:8.7px;color:#707684;font-weight:normal;text-align:right;">28</div>
<div style="left:967.00px;top:235.40px;width:60px;font-size:7.4px;line-height:8.7px;color:#707684;font-weight:normal;text-align:right;">28</div>
<div style="left:1007.00px;top:235.40px;width:60px;font-size:7.4px;line-height:8.7px;color:#707684;font-weight:normal;text-align:right;">100%</div>
<div style="left:120.60px;top:284.90px;width:400px;font-size:7.4px;line-height:8.55px;color:#4f6285;font-weight:normal;text-align:left;">Sudoeste</div>
<div style="left:191.60px;top:284.90px;width:400px;font-size:7.4px;line-height:8.55px;color:#4f6285;font-weight:normal;text-align:left;">Vitória Da</div>
<div style="left:191.60px;top:293.45px;width:400px;font-size:7.4px;line-height:8.55px;color:#4f6285;font-weight:normal;text-align:left;">Conquista</div>
<div style="left:233.60px;top:284.90px;width:400px;font-size:7.4px;line-height:8.55px;color:#4f6285;font-weight:normal;text-align:left;">Vitória Da</div>
<div style="left:233.60px;top:293.45px;width:400px;font-size:7.4px;line-height:8.55px;color:#4f6285;font-weight:normal;text-align:left;">Conquista</div>
<div style="left:278.60px;top:284.90px;width:400px;font-size:7.4px;line-height:8.55px;color:#4f6285;font-weight:normal;text-align:left;">2407756</div>
<div style="left:316.60px;top:284.90px;width:400px;font-size:7.4px;line-height:8.55px;color:#4f6285;font-weight:normal;text-align:left;">Hospital</div>
<div style="left:316.60px;top:293.45px;width:400px;font-size:7.4px;line-height:8.55px;color:#4f6285;font-weight:normal;text-align:left;">Sao</div>
<div style="left:316.60px;top:302.00px;width:400px;font-size:7.4px;line-height:8.55px;color:#4f6285;font-weight:normal;text-align:left;">Vicente</div>
<div style="left:316.60px;top:310.55px;width:400px;font-size:7.4px;line-height:8.55px;color:#4f6285;font-weight:normal;text-align:left;">De Paulo</div>
<div style="left:316.60px;top:319.10px;width:400px;font-size:7.4px;line-height:8.55px;color:#4f6285;font-weight:normal;text-align:left;">- Vitoria</div>
<div style="left:316.60px;top:327.65px;width:400px;font-size:7.4px;line-height:8.55px;color:#4f6285;font-weight:normal;text-align:left;">Da</div>
<div style="left:316.60px;top:336.20px;width:400px;font-size:7.4px;line-height:8.55px;color:#4f6285;font-weight:normal;text-align:left;">Conquista</div>
<div style="left:323.00px;top:284.90px;width:60px;font-size:7.4px;line-height:8.55px;color:#707684;font-weight:normal;text-align:right;">40</div>
<div style="left:368.00px;top:284.90px;width:60px;font-size:7.4px;line-height:8.55px;color:#707684;font-weight:normal;text-align:right;">18</div>
<div style="left:414.00px;top:284.90px;width:60px;font-size:7.4px;line-height:8.55px;color:#707684;font-weight:normal;text-align:right;">45%</div>
<div style="left:447.00px;top:284.90px;width:60px;font-size:7.4px;line-height:8.55px;color:#707684;font-weight:normal;text-align:right;">0</div>
<div style="left:496.00px;top:284.90px;width:60px;font-size:7.4px;line-height:8.55px;color:#707684;font-weight:normal;text-align:right;">0</div>
<div style="left:542.00px;top:284.90px;width:60px;font-size:7.4px;line-height:8.55px;color:#707684;font-weight:normal;text-align:right;">0%</div>
<div style="left:578.00px;top:284.90px;width:60px;font-size:7.4px;line-height:8.55px;color:#707684;font-weight:normal;text-align:right;">10</div>
<div style="left:627.00px;top:284.90px;width:60px;font-size:7.4px;line-height:8.55px;color:#707684;font-weight:normal;text-align:right;">10</div>
<div style="left:673.00px;top:284.90px;width:60px;font-size:7.4px;line-height:8.55px;color:#707684;font-weight:normal;text-align:right;">4</div>
<div style="left:723.00px;top:284.90px;width:60px;font-size:7.4px;line-height:8.55px;color:#707684;font-weight:normal;text-align:right;">100%</div>
<div style="left:759.00px;top:284.90px;width:60px;font-size:7.4px;line-height:8.55px;color:#707684;font-weight:normal;text-align:right;">0</div>
<div style="left:809.00px;top:284.90px;width:60px;font-size:7.4px;line-height:8.55px;color:#707684;font-weight:normal;text-align:right;">0</div>
<div style="left:858.00px;top:284.90px;width:60px;font-size:7.4px;line-height:8.55px;color:#707684;font-weight:normal;text-align:right;">0%</div>
<div style="left:907.00px;top:284.90px;width:60px;font-size:7.4px;line-height:8.55px;color:#707684;font-weight:normal;text-align:right;">28</div>
<div style="left:967.00px;top:284.90px;width:60px;font-size:7.4px;line-height:8.55px;color:#707684;font-weight:normal;text-align:right;">3</div>
<div style="left:1007.00px;top:284.90px;width:60px;font-size:7.4px;line-height:8.55px;color:#707684;font-weight:normal;text-align:right;">11%</div>
<div style="left:118.90px;top:350.40px;width:400px;font-size:7.6px;line-height:9px;color:#42537a;font-weight:bold;text-align:left;">Total de Sudoeste</div>
<div style="left:323.00px;top:350.40px;width:60px;font-size:7.6px;line-height:9px;color:#505c75;font-weight:bold;text-align:right;">78</div>
<div style="left:368.00px;top:350.40px;width:60px;font-size:7.6px;line-height:9px;color:#505c75;font-weight:bold;text-align:right;">45</div>
<div style="left:414.00px;top:350.40px;width:60px;font-size:7.6px;line-height:9px;color:#505c75;font-weight:bold;text-align:right;">58%</div>
<div style="left:447.00px;top:350.40px;width:60px;font-size:7.6px;line-height:9px;color:#505c75;font-weight:bold;text-align:right;">0</div>
<div style="left:496.00px;top:350.40px;width:60px;font-size:7.6px;line-height:9px;color:#505c75;font-weight:bold;text-align:right;">0</div>
<div style="left:542.00px;top:350.40px;width:60px;font-size:7.6px;line-height:9px;color:#505c75;font-weight:bold;text-align:right;">0%</div>
<div style="left:578.00px;top:350.40px;width:60px;font-size:7.6px;line-height:9px;color:#505c75;font-weight:bold;text-align:right;">70</div>
<div style="left:627.00px;top:350.40px;width:60px;font-size:7.6px;line-height:9px;color:#505c75;font-weight:bold;text-align:right;">67</div>
<div style="left:673.00px;top:350.40px;width:60px;font-size:7.6px;line-height:9px;color:#505c75;font-weight:bold;text-align:right;">41</div>
<div style="left:723.00px;top:350.40px;width:60px;font-size:7.6px;line-height:9px;color:#505c75;font-weight:bold;text-align:right;">96%</div>
<div style="left:759.00px;top:350.40px;width:60px;font-size:7.6px;line-height:9px;color:#505c75;font-weight:bold;text-align:right;">0</div>
<div style="left:809.00px;top:350.40px;width:60px;font-size:7.6px;line-height:9px;color:#505c75;font-weight:bold;text-align:right;">0</div>
<div style="left:858.00px;top:350.40px;width:60px;font-size:7.6px;line-height:9px;color:#505c75;font-weight:bold;text-align:right;">0%</div>
<div style="left:907.00px;top:350.40px;width:60px;font-size:7.6px;line-height:9px;color:#505c75;font-weight:bold;text-align:right;">112</div>
<div style="left:967.00px;top:350.40px;width:60px;font-size:7.6px;line-height:9px;color:#505c75;font-weight:bold;text-align:right;">80</div>
<div style="left:1007.00px;top:350.40px;width:60px;font-size:7.6px;line-height:9px;color:#505c75;font-weight:bold;text-align:right;">71%</div>
<div style="left:132.80px;top:373.00px;width:400px;font-size:11.5px;line-height:13px;color:#222;font-weight:bold;text-align:left;">Resultado da busca</div>
<div style="left:133.30px;top:410.20px;width:120px;font-size:17px;line-height:20px;color:#3a6a9f;font-weight:bold;text-align:center;">148</div>
<div style="left:133.30px;top:433.00px;width:120px;font-size:8px;line-height:10px;color:#6a6a6a;font-weight:bold;text-align:center;">Leitos ativos</div>
<div style="left:293.00px;top:404.60px;width:120px;font-size:17px;line-height:20px;color:#3a6a9f;font-weight:bold;text-align:center;">112</div>
<div style="left:293.00px;top:427.00px;width:120px;font-size:8px;line-height:10px;color:#6a6a6a;font-weight:bold;text-align:center;">Pacientes</div>
<div style="left:293.00px;top:438.20px;width:120px;font-size:8px;line-height:10px;color:#6a6a6a;font-weight:bold;text-align:center;">internados</div>
<div style="left:452.60px;top:404.60px;width:120px;font-size:17px;line-height:20px;color:#3a6a9f;font-weight:bold;text-align:center;">76%</div>
<div style="left:452.60px;top:427.00px;width:120px;font-size:8px;line-height:10px;color:#6a6a6a;font-weight:bold;text-align:center;">Taxa de</div>
<div style="left:452.60px;top:438.20px;width:120px;font-size:8px;line-height:10px;color:#6a6a6a;font-weight:bold;text-align:center;">ocupação geral</div>
<div style="left:612.30px;top:404.60px;width:120px;font-size:17px;line-height:20px;color:#3a6a9f;font-weight:bold;text-align:center;">96%</div>
<div style="left:612.30px;top:427.00px;width:120px;font-size:8px;line-height:10px;color:#6a6a6a;font-weight:bold;text-align:center;">Taxa de ocupação</div>
<div style="left:612.30px;top:438.20px;width:120px;font-size:8px;line-height:10px;color:#6a6a6a;font-weight:bold;text-align:center;">UTI adulto</div>
<div style="left:771.90px;top:404.60px;width:120px;font-size:17px;line-height:20px;color:#3a6a9f;font-weight:bold;text-align:center;">58%</div>
<div style="left:771.90px;top:427.00px;width:120px;font-size:8px;line-height:10px;color:#6a6a6a;font-weight:bold;text-align:center;">Taxa de ocupação</div>
<div style="left:771.90px;top:438.20px;width:120px;font-size:8px;line-height:10px;color:#6a6a6a;font-weight:bold;text-align:center;">clínicos ad / ped</div>
<div style="left:931.60px;top:404.60px;width:120px;font-size:17px;line-height:20px;color:#3a6a9f;font-weight:bold;text-align:center;">96%</div>
<div style="left:931.60px;top:427.00px;width:120px;font-size:8px;line-height:10px;color:#6a6a6a;font-weight:bold;text-align:center;">Taxa de ocupação</div>
<div style="left:931.60px;top:438.20px;width:120px;font-size:8px;line-height:10px;color:#6a6a6a;font-weight:bold;text-align:center;">UTI ad / ped</div>
<div style="left:670.00px;top:465.00px;width:400px;font-size:8.7px;line-height:10px;color:#3b7fb3;font-weight:normal;text-align:right;">Central Integrada de Comando e Controle da Saúde</div>
<div style="left:769.30px;top:474.40px;width:300px;font-size:7px;line-height:8px;color:#9a9a9a;font-weight:normal;text-align:right;">Fonte: Sais/Sesab e Suregs/Sesab</div>
<div style="left:770.00px;top:483.80px;width:300px;font-size:7.2px;line-height:9px;color:#555;font-weight:normal;text-align:right;">Data da última atualização: 07/06/2021 18:31:02</div>
<div style="left:885.40px;top:490.40px;width:400px;font-size:11.6px;line-height:14px;color:rgba(120,120,120,0.45);font-weight:normal;text-align:left;">Ativar o Windows</div>
</body></html>
